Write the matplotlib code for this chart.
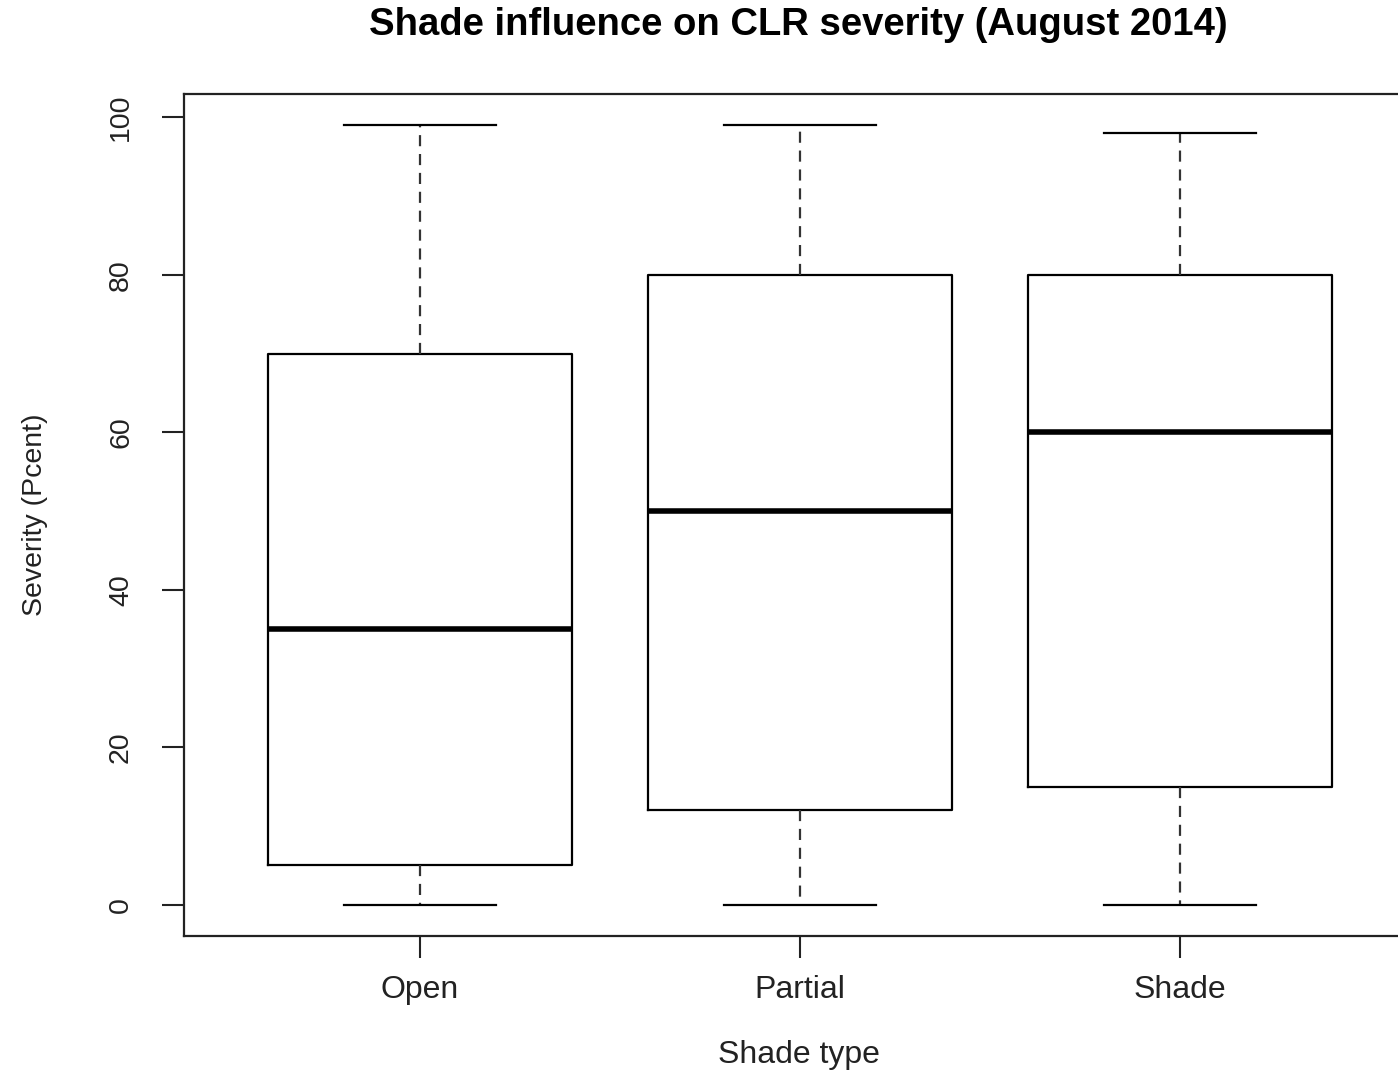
import matplotlib
matplotlib.use("Agg")
import matplotlib.pyplot as plt

categories = ["Open", "Partial", "Shade"]
whisker_low = [0, 0, 0]
q1 = [5, 12, 15]
median = [35, 50, 60]
q3 = [70, 80, 80]
whisker_high = [99, 99, 98]
y_ticks = [0, 20, 40, 60, 80, 100]

plt.rcParams['font.family'] = ['Liberation Sans', 'DejaVu Sans']

W, H = 1398, 1076
fig = plt.figure(figsize=(W / 100, H / 100), dpi=100)
ax = fig.add_axes([184 / W, (H - 936) / H, (1416 - 184) / W, (936 - 94) / H])

stats = []
for i, c in enumerate(categories):
    stats.append(dict(label=c, whislo=whisker_low[i], q1=q1[i], med=median[i],
                      q3=q3[i], whishi=whisker_high[i], fliers=[]))

ax.bxp(stats, positions=[1, 2, 3], widths=0.8, showfliers=False,
       boxprops=dict(color='black', linewidth=1.6),
       medianprops=dict(color='black', linewidth=4.0, solid_capstyle='butt'),
       whiskerprops=dict(color='#333333', linewidth=1.6, linestyle=(0, (5, 3.5))),
       capprops=dict(color='black', linewidth=1.6),
       capwidths=0.4)

ax.set_xlim(0.38, 3.62)
ax.set_ylim(-3.96, 102.96)
ax.set_yticks(y_ticks)
ax.set_yticklabels([str(v) for v in y_ticks], rotation=90, va='center', fontsize=20.5)
ax.set_xticks([1, 2, 3])
ax.set_xticklabels(categories, fontsize=23)
ax.tick_params(axis='both', length=16, width=1.5, color='#222222', labelcolor='#222222')
ax.tick_params(axis='y', pad=20)
ax.tick_params(axis='x', pad=12)
for s in ax.spines.values():
    s.set_linewidth(1.6)
    s.set_color('#222222')

fig.text(799 / W, 1 - 1055 / H, "Shade type", ha='center', va='center',
         fontsize=23, color='#222222')
fig.text(35 / W, 1 - 515 / H, "Severity (Pcent)", ha='center', va='center',
         rotation=90, fontsize=20.5, color='#222222')
fig.text(798 / W, 1 - 25 / H, "Shade influence on CLR severity (August 2014)",
         ha='center', va='center', fontsize=27.5, fontweight='bold', color='black')

fig.savefig("out.png", dpi=100)
